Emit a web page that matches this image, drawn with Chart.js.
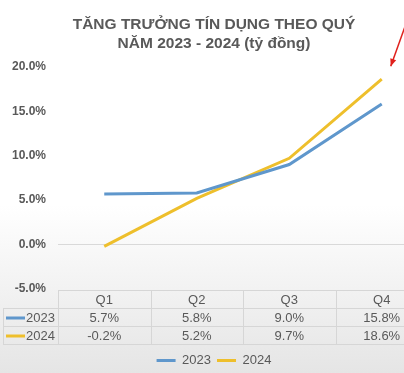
<!DOCTYPE html>
<html>
<head>
<meta charset="utf-8">
<script src="https://cdn.jsdelivr.net/npm/chart.js@4/dist/chart.umd.min.js"></script>
<style>
  html, body { margin: 0; padding: 0; background: #fff; }
  #wrap { width: 404px; height: 373px; overflow: hidden; position: relative; }
  #box { width: 430px; height: 373px; }
</style>
</head>
<body>
<div id="wrap"><div id="box"><canvas id="myChart"></canvas></div></div>
<script>
var quarters = ['Q1', 'Q2', 'Q3', 'Q4'];
var years = ['2023', '2024'];
var values2023 = [5.7, 5.8, 9.0, 15.8];
var values2024 = [-0.2, 5.2, 9.7, 18.6];
var colors = ['#5f97cc', '#eebf2c'];
var textColor = '#595959';

// background gradient, white fading to light grey
var bgPlugin = {
    id: 'bg',
    beforeDraw: function(chart) {
        var ctx = chart.ctx;
        var g = ctx.createLinearGradient(0, 0, 0, chart.height);
        g.addColorStop(0, '#ffffff');
        g.addColorStop(0.55, '#ffffff');
        g.addColorStop(1, '#e5e5e5');
        ctx.save();
        ctx.fillStyle = g;
        ctx.fillRect(0, 0, chart.width, chart.height);
        ctx.restore();
    }
};

// data table under the plot + red arrow
var tablePlugin = {
    id: 'dataTable',
    afterDraw: function(chart) {
        var ctx = chart.ctx;
        var area = chart.chartArea;
        var xs = chart.scales.x;
        var rowH = 18;
        var top = area.bottom + 1;
        var step = xs.getPixelForValue(1) - xs.getPixelForValue(0);
        var series = [values2023, values2024];

        ctx.save();
        ctx.strokeStyle = '#d6d6d6';
        ctx.lineWidth = 1;
        // horizontal lines
        ctx.beginPath();
        ctx.moveTo(area.left, top + 0.5); ctx.lineTo(area.right, top + 0.5);
        for (var r = 1; r <= 3; r++) {
            var yy = Math.round(top + r * rowH) + 0.5;
            ctx.moveTo(3, yy); ctx.lineTo(area.right, yy);
        }
        // vertical lines
        for (var i = 0; i <= quarters.length; i++) {
            var xx = Math.round(xs.getPixelForValue(i) - step / 2) + 0.5;
            ctx.moveTo(xx, top); ctx.lineTo(xx, top + 3 * rowH);
        }
        ctx.moveTo(3.5, top + rowH); ctx.lineTo(3.5, top + 3 * rowH);
        ctx.stroke();

        ctx.fillStyle = textColor;
        ctx.font = '13px "Liberation Sans", Arial, sans-serif';
        ctx.textAlign = 'center';
        ctx.textBaseline = 'middle';
        quarters.forEach(function(q, i) {
            var cx = xs.getPixelForValue(i);
            ctx.fillText(q, cx, top + rowH / 2 + 1);
            series.forEach(function(s, k) {
                ctx.fillText(s[i].toFixed(1) + '%', cx, top + rowH * (k + 1.5) + 1);
            });
        });
        years.forEach(function(y, k) {
            var cy = top + rowH * (k + 1.5) + 1;
            ctx.strokeStyle = colors[k];
            ctx.lineWidth = 3;
            ctx.beginPath();
            ctx.moveTo(6, cy); ctx.lineTo(25, cy);
            ctx.stroke();
            ctx.textAlign = 'left';
            ctx.fillText(y, 26, cy);
        });

        // red arrow pointing at the 2024 Q4 point
        var px = xs.getPixelForValue(3);
        var py = chart.scales.y.getPixelForValue(values2024[3]);
        var tx = px + 9, ty = py - 13;
        var sx = px + 23, sy = py - 52;
        ctx.strokeStyle = '#e0201c';
        ctx.fillStyle = '#e0201c';
        ctx.lineWidth = 1.5;
        ctx.beginPath();
        ctx.moveTo(sx, sy); ctx.lineTo(tx, ty);
        ctx.stroke();
        var ang = Math.atan2(ty - sy, tx - sx);
        ctx.beginPath();
        ctx.moveTo(tx, ty);
        ctx.lineTo(tx - 8 * Math.cos(ang - 0.4), ty - 8 * Math.sin(ang - 0.4));
        ctx.lineTo(tx - 8 * Math.cos(ang + 0.4), ty - 8 * Math.sin(ang + 0.4));
        ctx.closePath();
        ctx.fill();
        ctx.restore();
    }
};

var config = {
    type: 'line',
    data: {
        labels: quarters,
        datasets: [{
            label: years[0],
            data: values2023,
            borderColor: colors[0],
            backgroundColor: colors[0],
            borderWidth: 3,
            pointRadius: 0,
            tension: 0
        }, {
            label: years[1],
            data: values2024,
            borderColor: colors[1],
            backgroundColor: colors[1],
            borderWidth: 3,
            pointRadius: 0,
            tension: 0
        }]
    },
    plugins: [bgPlugin, tablePlugin],
    options: {
        responsive: true,
        maintainAspectRatio: false,
        animation: false,
        layout: { padding: { left: 0, right: 2, bottom: -4 } },
        scales: {
            x: {
                offset: true,
                grid: { display: false },
                border: { display: false },
                ticks: { display: false },
                afterFit: function(s) { s.height = 59; }
            },
            y: {
                min: -5,
                max: 20,
                grid: {
                    drawTicks: false,
                    color: function(c) { return c.tick && c.tick.value === 0 ? '#d9d9d9' : 'rgba(0,0,0,0)'; }
                },
                border: { display: false },
                ticks: {
                    stepSize: 5,
                    padding: 12,
                    color: textColor,
                    font: { family: '"Liberation Sans", Arial, sans-serif', size: 12, weight: 'bold' },
                    callback: function(v) { return v.toFixed(1) + '%'; }
                },
                afterFit: function(s) { s.width = 58; }
            }
        },
        plugins: {
            title: {
                display: true,
                text: ['TĂNG TRƯỞNG TÍN DỤNG THEO QUÝ', 'NĂM 2023 - 2024 (tỷ đồng)'],
                color: textColor,
                font: { family: '"Liberation Sans", Arial, sans-serif', size: 15.5, weight: 'bold', lineHeight: 1.25 },
                padding: { top: 15, bottom: 13 }
            },
            legend: {
                position: 'bottom',
                labels: {
                    usePointStyle: true,
                    pointStyle: 'line',
                    pointStyleWidth: 19,
                    color: textColor,
                    padding: 6,
                    font: { family: '"Liberation Sans", Arial, sans-serif', size: 13 }
                }
            },
            tooltip: { enabled: false }
        }
    }
};

window.onload = function() {
    var ctx = document.getElementById('myChart').getContext('2d');
    window.myLine = new Chart(ctx, config);
};
</script>
</body>
</html>
